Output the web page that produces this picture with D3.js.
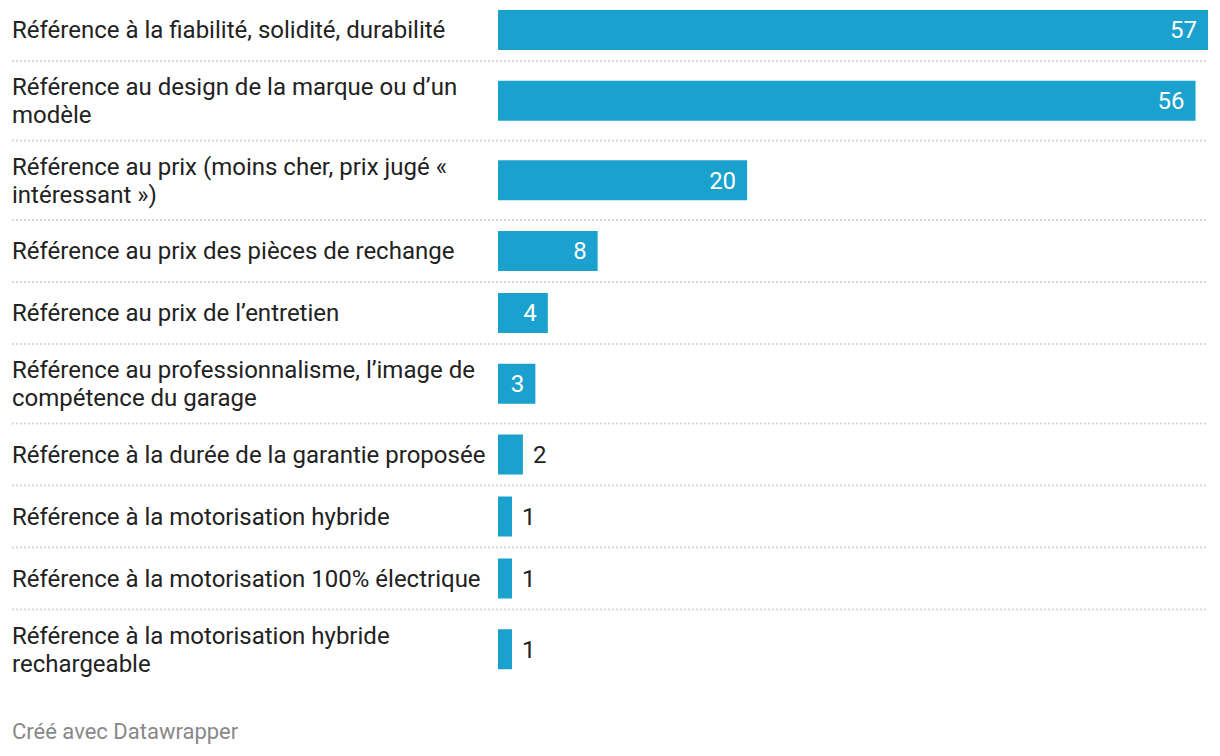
<!DOCTYPE html>
<html>
<head>
<meta charset="utf-8">
<script src="https://cdn.jsdelivr.net/npm/d3@7"></script>
<style>
  html, body { margin: 0; padding: 0; background: #fff; }
  svg { display: block; font-family: Roboto, "Noto Sans", sans-serif; }
</style>
</head>
<body>
<svg id="chart" width="1220" height="756"></svg>
<script>
const categories = [
  "Référence à la fiabilité, solidité, durabilité",
  "Référence au design de la marque ou d’un\nmodèle",
  "Référence au prix (moins cher, prix jugé «\nintéressant »)",
  "Référence au prix des pièces de rechange",
  "Référence au prix de l’entretien",
  "Référence au professionnalisme, l’image de\ncompétence du garage",
  "Référence à la durée de la garantie proposée",
  "Référence à la motorisation hybride",
  "Référence à la motorisation 100% électrique",
  "Référence à la motorisation hybride\nrechargeable"
];
const values = [57, 56, 20, 8, 4, 3, 2, 1, 1, 1];
const footerText = "Créé avec Datawrapper";

const svg = d3.select("#chart");
const labelX = 12;
const barH = 40;
const lineH = 28;
const fs = 24;

// row layout
const rows = categories.map((c, i) => ({ label: c, lines: c.split("\n"), value: values[i] }));
let yPos = -1;
rows.forEach(r => {
  r.h = r.lines.length > 1 ? 79.5 : 62;
  r.top = yPos;
  r.center = yPos + r.h / 2;
  yPos += r.h;
});

const x = d3.scaleLinear().domain([0, d3.max(values)]).range([498, 1208]);
const barEnd = d => x(0) + Math.max(x(d.value) - x(0), 14);

// separators
svg.append("g").selectAll("line")
  .data(rows.slice(0, -1))
  .join("line")
  .attr("x1", labelX).attr("x2", 1208)
  .attr("y1", d => d.top + d.h).attr("y2", d => d.top + d.h)
  .attr("stroke", "#d9d9d9").attr("stroke-width", 2)
  .attr("stroke-dasharray", "2,2");

// labels
const lab = svg.append("g").selectAll("text")
  .data(rows).join("text")
  .attr("x", labelX)
  .attr("font-size", fs)
  .attr("fill", "#222");
lab.each(function(d) {
  const n = d.lines.length;
  d3.select(this).selectAll("tspan").data(d.lines).join("tspan")
    .attr("x", labelX)
    .attr("y", (l, j) => d.center + (j - (n - 1) / 2) * lineH)
    .attr("dy", "0.35em")
    .text(l => l);
});

// bars
svg.append("g").selectAll("rect")
  .data(rows).join("rect")
  .attr("x", x(0))
  .attr("y", d => d.center - barH / 2)
  .attr("width", d => barEnd(d) - x(0))
  .attr("height", barH)
  .attr("fill", "#1ba1ce");

// value labels
svg.append("g").selectAll("text")
  .data(rows).join("text")
  .attr("font-size", fs)
  .attr("y", d => d.center)
  .attr("dy", "0.35em")
  .each(function(d) {
    const inside = d.value >= 3;
    d3.select(this)
      .attr("x", inside ? barEnd(d) - 11 : barEnd(d) + 10)
      .attr("text-anchor", inside ? "end" : "start")
      .attr("fill", inside ? "#fff" : "#222");
  })
  .text(d => d.value);

// footer
svg.append("text")
  .attr("x", labelX).attr("y", 731).attr("dy", "0.35em")
  .attr("font-size", 22)
  .attr("fill", "#888")
  .text(footerText);
</script>
</body>
</html>
